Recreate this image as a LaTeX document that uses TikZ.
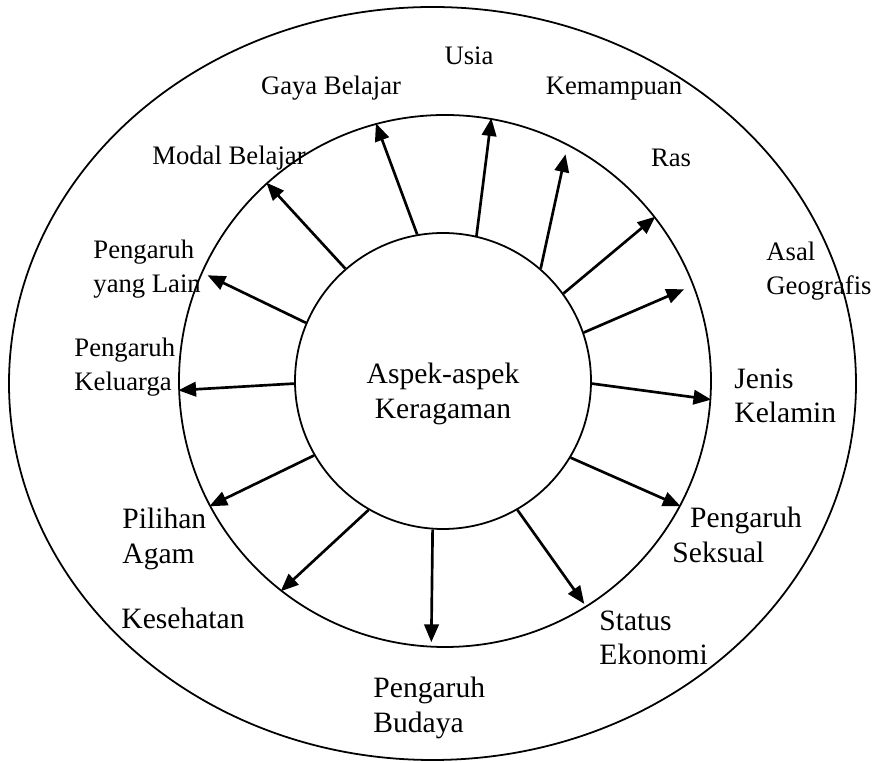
\documentclass[tikz,border=0pt]{standalone}
\usepackage{fontspec}
\setmainfont{Liberation Serif}
\usetikzlibrary{arrows.meta,calc}

\begin{document}
\begin{tikzpicture}[x=0.45pt,y=-0.45pt,
		ring/.style={circle,draw,line width=0.8pt,inner sep=0pt},
		aspect/.style={line width=1.2pt,-{Triangle[length=8pt,width=6.5pt]}},
		small/.style={inner sep=0pt,font=\fontsize{12}{15.3}\selectfont},
		large/.style={inner sep=0pt,font=\fontsize{13.3}{15.5}\selectfont},
		multi/.style={align=left,anchor=north west}]
		\useasboundingbox (0,0) rectangle (874,763);
		\draw[line width=0.8pt] (432.5,383.5) ellipse (423.5 and 376.5);
		\node[ring,minimum size=239.4pt] (mid) at (445,381) {};
		\node[ring,minimum size=133.2pt] (inner) at (443,381) {};
		\node[large,align=center] (aspek) at (443,394) {Aspek-aspek\\Keragaman};

		\node[small] (usia) at (469,56) {Usia};
		\node[small] (gaya) at (331,88) {Gaya Belajar};
		\node[small] (mampu) at (614,89) {Kemampuan};
		\node[small] (modal) at (229,158) {Modal Belajar};
		\node[small] (ras) at (671,158) {Ras};
		\node[small,multi] (asal) at (766,242) {Asal\\Geografis};
		\node[small,multi] (lain) at (93,240) {Pengaruh\\yang Lain};
		\node[small,multi] (keluarga) at (74,338) {Pengaruh\\Keluarga};
		\node[large,multi] (jenis) at (734,368) {Jenis\\Kelamin};
		\node[large,multi] (seksual) at (672,507) {\hspace*{8pt}Pengaruh\\Seksual};
		\node[large,multi] (status) at (599,610) {Status\\Ekonomi};
		\node[large,multi] (budaya) at (373,677) {Pengaruh\\Budaya};
		\node[large] (sehat) at (183,618) {Kesehatan};
		\node[large,multi] (agama) at (122,508) {Pilihan\\Agam};

		\draw[aspect] (inner.131) -- (mid.132);
		\draw[aspect] (inner.100) -- (mid.105);
		\draw[aspect] (inner.77) -- (mid.80);
		\draw[aspect] (inner.49) -- ($(mid.center)!0.962!(mid.62)$);
		\draw[aspect] (inner.36) -- (mid.38);
		\draw[aspect] (inner.19) -- ($(mid.center)!0.96!(mid.21)$);
		\draw[aspect] (inner.-1) -- (mid.-4);
		\draw[aspect] (inner.-31) -- (mid.-28);
		\draw[aspect] (inner.-60) -- ($(mid.center)!0.985!(mid.-58)$);
		\draw[aspect] (inner.-94) -- ($(mid.center)!0.98!(mid.-93)$);
		\draw[aspect] (inner.-120) -- (mid.-128.5);
		\draw[aspect] (inner.-150) -- (mid.-152);
		\draw[aspect] (inner.181) -- (mid.182);
		\draw[aspect] (inner.157) -- ($(mid.center)!0.974!(mid.156)$);
\end{tikzpicture}
\end{document}
